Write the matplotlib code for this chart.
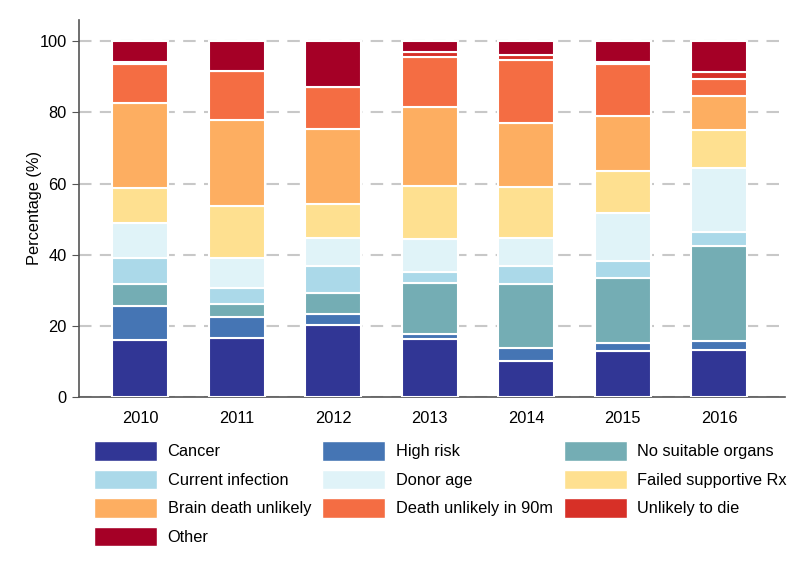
import matplotlib.pyplot as plt
import numpy as np
from matplotlib.patches import Patch

plt.rcParams["font.family"] = ["Liberation Sans", "DejaVu Sans"]

years = ["2010", "2011", "2012", "2013", "2014", "2015", "2016"]
categories = [
    "Cancer", "High risk", "No suitable organs", "Current infection",
    "Donor age", "Failed supportive Rx", "Brain death unlikely",
    "Death unlikely in 90m", "Unlikely to die", "Other",
]
colors = [
    "#313695", "#4575b4", "#74adb4", "#abd9e9", "#e0f3f8",
    "#fee090", "#fdae61", "#f46d43", "#d73027", "#a50026",
]

# percentages per category, one value per year
cancer = [16.1, 16.7, 20.2, 16.2, 10.1, 12.9, 13.1]
high_risk = [9.4, 5.8, 3.2, 1.4, 3.6, 2.3, 2.6]
no_suitable = [6.2, 3.7, 5.7, 14.3, 18.0, 18.2, 26.8]
current_inf = [7.4, 4.5, 7.8, 3.2, 5.2, 4.7, 3.8]
donor_age = [9.8, 8.4, 7.7, 9.4, 7.8, 13.5, 18.1]
failed_rx = [9.9, 14.5, 9.7, 14.7, 14.3, 11.9, 10.8]
brain_death = [24.0, 24.2, 21.1, 22.4, 17.9, 15.6, 9.5]
death_90m = [10.8, 13.8, 11.9, 14.0, 17.8, 14.6, 4.7]
unlikely_die = [0.6, 0.0, 0.0, 1.5, 1.4, 0.6, 2.1]
other = [5.8, 8.4, 12.7, 2.9, 3.9, 5.9, 8.5]

series = [cancer, high_risk, no_suitable, current_inf, donor_age,
          failed_rx, brain_death, death_90m, unlikely_die, other]

fig = plt.figure(figsize=(8, 5.82), dpi=100)
ax = fig.add_axes([0.099, 0.318, 0.882, 0.6476])

x = np.arange(len(years))
bottom = np.zeros(len(years))
for vals, col in zip(series, colors):
    vals = np.array(vals)
    ax.bar(x, vals, bottom=bottom, width=0.58, color=col,
           edgecolor="white", linewidth=1.5, zorder=3)
    bottom += vals

ax.set_ylim(0, 106)
ax.set_xlim(-0.63, 6.68)
ax.set_yticks([0, 20, 40, 60, 80, 100])
ax.set_xticks(x)
ax.set_xticklabels(years)
ax.yaxis.grid(True, color="#c8c8c8", linestyle=(0, (6, 4)), linewidth=1.5, zorder=0)
ax.set_axisbelow(True)

for s in ["top", "right"]:
    ax.spines[s].set_visible(False)
for s in ["left", "bottom"]:
    ax.spines[s].set_color("#555555")
    ax.spines[s].set_linewidth(1.2)

fs = 11.8
ax.tick_params(axis="y", labelsize=fs, length=5, color="#555555", pad=4)
ax.tick_params(axis="x", labelsize=fs, length=0, pad=10)
ax.set_ylabel("Percentage (%)", fontsize=fs, labelpad=-2)

handles = [Patch(facecolor=c, edgecolor="white", label=l) for c, l in zip(colors, categories)]
order = [0, 3, 6, 9, 1, 4, 7, 2, 5, 8]
fig.legend([handles[i] for i in order], [categories[i] for i in order],
           loc="upper left", bbox_to_anchor=(0.117, 0.242), ncol=3,
           frameon=False, fontsize=fs, handlelength=3.85, handleheight=1.45,
           handletextpad=0.66, labelspacing=0.55, columnspacing=0.66,
           borderpad=0, borderaxespad=0)

fig.savefig("out.png", dpi=100)
